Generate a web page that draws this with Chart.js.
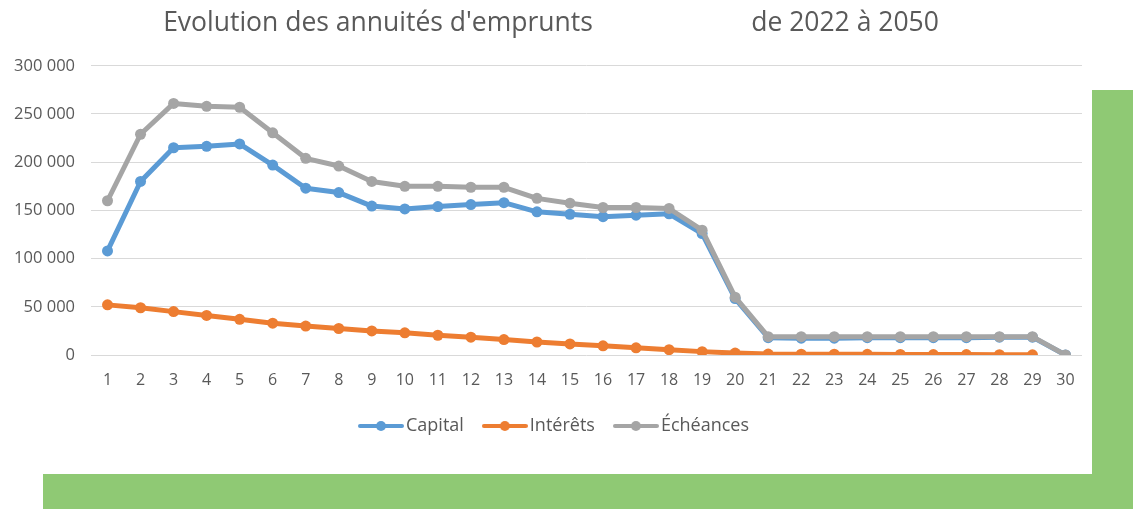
<!DOCTYPE html>
<html>
<head>
    <title>Evolution des annuités d'emprunts</title>
    <script src="https://cdn.jsdelivr.net/npm/chart.js"></script>
    <style>
        body { margin: 0; background: #fff; width: 1133px; height: 509px; position: relative; overflow: hidden; }
        #wrap { position: absolute; left: 0; top: 0; width: 1092px; height: 474px; }
        .green { position: absolute; background: #8fc974; }
    </style>
</head>
<body>
    <div id="wrap"><canvas id="chart" width="1092" height="474"></canvas></div>
    <div class="green" style="left:1092px; top:90px; width:41px; height:419px;"></div>
    <div class="green" style="left:43px; top:474px; width:1090px; height:35px;"></div>

    <script>
        const years = [];
        for (let i = 1; i <= 30; i++) years.push(String(i));

        const capital = [108000, 180000, 215000, 216500, 219000, 197000, 173000, 168500, 154500, 151500,
                         154000, 156000, 158000, 148500, 146000, 143500, 145000, 146500, 126000, 58500,
                         18000, 17500, 17500, 18000, 18000, 18000, 18000, 18500, 18500, 0];
        const interets = [52000, 49000, 45000, 41000, 37000, 33000, 30000, 27500, 25000, 23000,
                          20500, 18500, 16000, 13500, 11500, 9500, 7500, 5500, 3500, 2000,
                          1000, 900, 800, 700, 600, 500, 400, 300, 200];
        const echeances = [160000, 229000, 261000, 258000, 257000, 230500, 204000, 196000, 180000, 175000,
                           175000, 174000, 174000, 162500, 157500, 153000, 153000, 152000, 129500, 60000,
                           19000, 19000, 19000, 19000, 19000, 19000, 19000, 19000, 19000, 0];

        const textColor = '#595959';
        const fontName = "'Open Sans', 'DejaVu Sans', sans-serif";

        // legend icon: line with a dot in the middle
        function legendIcon(color) {
            const c = document.createElement('canvas');
            c.width = 46; c.height = 14;
            const g = c.getContext('2d');
            g.strokeStyle = color;
            g.lineWidth = 4;
            g.lineCap = 'round';
            g.beginPath(); g.moveTo(2, 7); g.lineTo(44, 7); g.stroke();
            g.fillStyle = color;
            g.beginPath(); g.arc(23, 7, 5, 0, Math.PI * 2); g.fill();
            return c;
        }

        function fmt(v) {
            return String(v).replace(/\B(?=(\d{3})+(?!\d))/g, ' ');
        }

        function makeSet(label, data, color, order) {
            return {
                label: label,
                data: data,
                borderColor: color,
                backgroundColor: color,
                borderWidth: 5,
                pointRadius: 5.5,
                pointBorderWidth: 0,
                pointStyle: 'circle',
                legendIcon: legendIcon(color),
                borderJoinStyle: 'round',
                borderCapStyle: 'round',
                tension: 0,
                order: order
            };
        }

        const datasets = [
            makeSet('Capital', capital, '#5b9bd5', 2),
            makeSet('Intérêts', interets, '#ed7d31', 1),
            makeSet('Échéances', echeances, '#a5a5a5', 0)
        ];

        // title and legend sit a bit right of the chart centre in the original
        const shiftBlocks = {
            id: 'shiftBlocks',
            afterLayout(chart) {
                if (chart.titleBlock) { chart.titleBlock.left += 10; chart.titleBlock.right += 10; }
                if (chart.legend) { chart.legend.left += 16; chart.legend.right += 16; }
            }
        };

        const ctx = document.getElementById('chart').getContext('2d');
        new Chart(ctx, {
            type: 'line',
            data: { labels: years, datasets: datasets },
            plugins: [shiftBlocks],
            options: {
                responsive: false,
                animation: false,
                layout: { padding: { left: 0, right: 10, top: 8, bottom: 29 } },
                plugins: {
                    title: {
                        display: true,
                        text: "Evolution des annuités d'emprunts                       de 2022 à 2050",
                        color: textColor,
                        font: { family: fontName, size: 26.5, weight: 'normal' },
                        padding: { top: 0, bottom: 26 }
                    },
                    legend: {
                        position: 'bottom',
                        labels: {
                            color: textColor,
                            font: { family: fontName, size: 18 },
                            usePointStyle: true,
                            pointStyleWidth: 32,
                            padding: 25,
                            generateLabels: function (chart) {
                                return chart.data.datasets.map((ds, i) => ({
                                    text: ds.label,
                                    fillStyle: ds.borderColor,
                                    strokeStyle: ds.borderColor,
                                    lineWidth: 0,
                                    pointStyle: ds.legendIcon,
                                    fontColor: textColor,
                                    hidden: false,
                                    datasetIndex: i
                                }));
                            }
                        }
                    },
                    tooltip: { enabled: false }
                },
                scales: {
                    x: {
                        offset: true,
                        grid: { display: false, drawTicks: false },
                        border: { display: false },
                        ticks: {
                            color: textColor,
                            font: { family: fontName, size: 16 },
                            padding: 16,
                            maxRotation: 0,
                            autoSkip: false
                        },
                        afterFit: function (scale) { scale.height = 37; }
                    },
                    y: {
                        min: 0,
                        max: 300000,
                        grid: { color: '#d9d9d9', lineWidth: 1, drawTicks: false },
                        border: { display: false },
                        ticks: {
                            stepSize: 50000,
                            color: textColor,
                            font: { family: fontName, size: 16.5 },
                            padding: 16,
                            callback: v => fmt(v)
                        },
                        afterFit: function (scale) { scale.width = 91; }
                    }
                }
            }
        });
    </script>
</body>
</html>
